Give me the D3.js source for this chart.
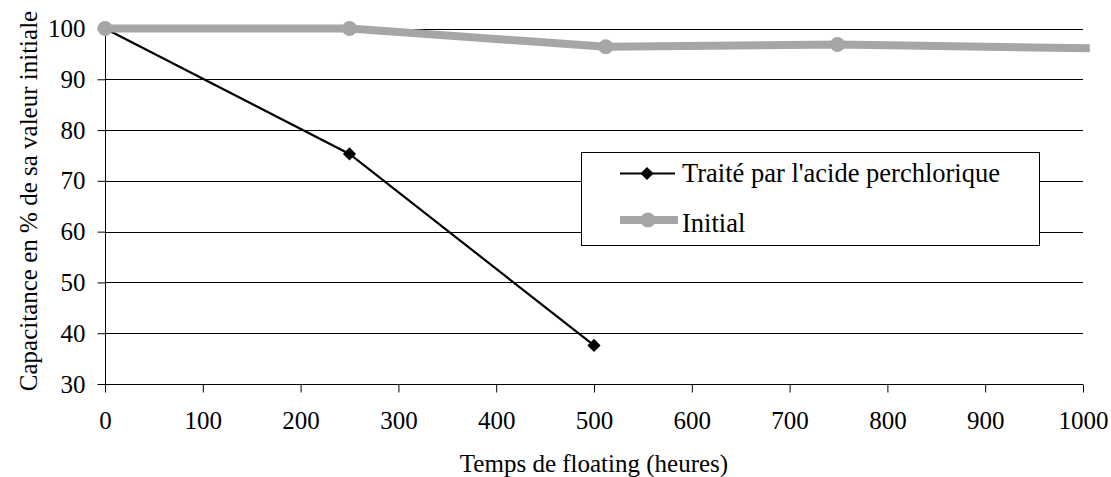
<!DOCTYPE html>
<html><head><meta charset="utf-8">
<script src="https://cdn.jsdelivr.net/npm/d3@7"></script>
<style>body{margin:0;background:#fff}svg{display:block}svg text{font-family:'Liberation Serif','Times New Roman',serif !important}</style>
</head><body>
<svg id="c" width="1111" height="477"></svg>
<script>
const treatedX = [0, 250, 500];
const treatedY = [100, 75.3, 37.6];
const initialX = [0, 250, 512, 749, 1007];
const initialY = [100, 100, 96.4, 96.85, 96.1];
const initialMarkers = [true, true, true, true, false];
const xTicks = [0,100,200,300,400,500,600,700,800,900,1000];
const yTicks = [30,40,50,60,70,80,90,100];
const seriesNames = ["Traité par l'acide perchlorique", "Initial"];
const xTitle = "Temps de floating (heures)";
const yTitle = "Capacitance en % de sa valeur initiale";

const FONT = "'Liberation Serif', 'Times New Roman', serif";
const svg = d3.select("#c");
const L = 105, R = 1083, T = 28.5, B = 384;
const x = d3.scaleLinear().domain([0,1000]).range([L,R]);
const y = d3.scaleLinear().domain([30,100]).range([B,T]);
const fs = 25;
const grey = "#a6a6a6";

// gridlines
svg.append("g").selectAll("line").data(yTicks).join("line")
  .attr("x1",L).attr("x2",R).attr("y1",d=>Math.round(y(d))+0.5).attr("y2",d=>Math.round(y(d))+0.5)
  .attr("stroke","#000").attr("stroke-width",1);

// y axis
const ya = svg.append("g").attr("transform",`translate(${L+0.5},0)`)
  .call(d3.axisLeft(y).tickValues(yTicks).tickSize(8).tickPadding(12).tickFormat(d3.format("d")));
ya.attr("font-family",null);
ya.select(".domain").attr("stroke","#000").attr("d",`M0,${B}V${T}`);
ya.selectAll("text").attr("font-size",fs).style("font-family",FONT).attr("fill","#000").attr("dy","0.32em");
ya.selectAll("line").attr("stroke","#000");
// x axis
const xa = svg.append("g").attr("transform",`translate(0,${B+0.5})`)
  .call(d3.axisBottom(x).tickValues(xTicks).tickSize(8).tickFormat(d3.format("d")));
xa.attr("font-family",null);
xa.select(".domain").attr("stroke","#000").attr("d",`M${L},0H${R}`);
xa.selectAll("text").attr("font-size",fs).style("font-family",FONT).attr("fill","#000").attr("y",44).attr("dy",0);
xa.selectAll("line").attr("stroke","#000");

// titles
svg.append("text").attr("x",594).attr("y",472).attr("text-anchor","middle")
  .attr("font-size",25).style("font-family",FONT).text(xTitle);
svg.append("text").attr("transform",`translate(37,201) rotate(-90)`).attr("text-anchor","middle")
  .attr("font-size",25).style("font-family",FONT).text(yTitle);

const line = d3.line().x(d=>x(d.x)).y(d=>y(d.y));
const diamond = d3.symbol().type(d3.symbolDiamond2).size(110);

// Treated series
const trData = treatedX.map((d,i)=>({x:d,y:treatedY[i]}));
svg.append("path").datum(trData).attr("d",line)
  .attr("fill","none").attr("stroke","#000").attr("stroke-width",2.2);
svg.append("g").selectAll("path").data(trData).join("path")
  .attr("transform",d=>`translate(${x(d.x)},${y(d.y)})`)
  .attr("d",diamond).attr("fill","#000");

// Initial series
const initData = initialX.map((d,i)=>({x:d,y:initialY[i],m:initialMarkers[i]}));
svg.append("path").datum(initData).attr("d",line)
  .attr("fill","none").attr("stroke",grey).attr("stroke-width",8);
svg.append("g").selectAll("circle").data(initData.filter(d=>d.m)).join("circle")
  .attr("cx",d=>x(d.x)).attr("cy",d=>y(d.y)).attr("r",7.5).attr("fill",grey);

// legend
const lg = svg.append("g");
lg.append("rect").attr("x",581.5).attr("y",152.5).attr("width",458).attr("height",93)
  .attr("fill","#fff").attr("stroke","#000").attr("stroke-width",1);
lg.append("line").attr("x1",620).attr("x2",675).attr("y1",173.5).attr("y2",173.5).attr("stroke","#000").attr("stroke-width",2.2);
lg.append("path").attr("transform","translate(647,173.5)").attr("d",diamond).attr("fill","#000");
lg.append("text").attr("x",682).attr("y",182).attr("font-size",26.5).style("font-family",FONT).text(seriesNames[0]);
lg.append("line").attr("x1",620).attr("x2",678).attr("y1",220).attr("y2",220).attr("stroke",grey).attr("stroke-width",8);
lg.append("circle").attr("cx",648).attr("cy",220).attr("r",7.5).attr("fill",grey);
lg.append("text").attr("x",682).attr("y",232).attr("font-size",26.5).style("font-family",FONT).text(seriesNames[1]);
</script>
</body></html>
